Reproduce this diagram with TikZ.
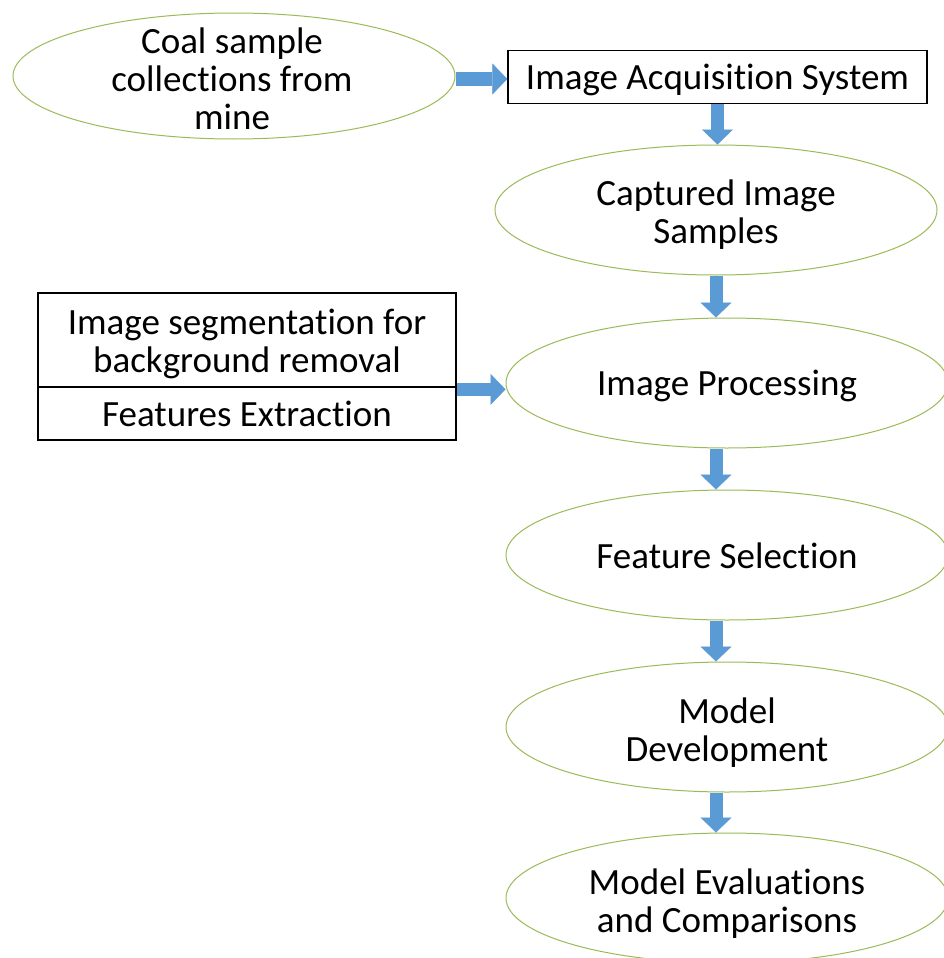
\documentclass[tikz,border=0pt]{standalone}
\usepackage{fontspec}
\setmainfont{Carlito}[Ligatures=NoCommon]
\usetikzlibrary{shapes.geometric,arrows.meta}
\definecolor{ellgreen}{HTML}{9BBB59}
\definecolor{arrblue}{HTML}{5B9BD5}
\begin{document}
\begin{tikzpicture}[x=1pt,y=-1pt,
  ell/.style={ellipse, draw=ellgreen, line width=1pt, inner sep=0pt,
              minimum width=442pt, minimum height=130pt},
  lbl/.style={align=center, font=\fontsize{37}{38}\selectfont, inner sep=0pt},
  rbox/.style={draw=black, line width=1.3pt, inner sep=0pt, minimum width=418pt},
  barrow/.style={draw=arrblue, line width=13pt,
                 -{Triangle[width=31pt,length=15pt,line width=0.5pt]}}
]
\useasboundingbox (0,0) rectangle (943,958);
\fill[white] (0,0) rectangle (943,958);

% shapes
\node[ell, minimum height=126pt] (e1) at (234,76) {};
\node[rbox, minimum width=419pt, minimum height=53pt] (acq) at (717.5,77) {};
\node[ell] (cap) at (716,210) {};
\node[ell] (ip) at (727,383) {};
\node[ell] (fs) at (727,555) {};
\node[ell] (md) at (727,727) {};
\node[ell] (me) at (727,898) {};
\node[rbox, minimum height=94pt] (seg) at (247,340) {};
\node[rbox, minimum height=53pt] (fe) at (247,413.5) {};

% texts
\node[lbl] (e1t) at (232,79) {Coal sample\\collections from\\mine};
\node[lbl, yshift=-3pt] (acqt) at (acq) {Image Acquisition System};
\node[lbl, yshift=-5pt] (capt) at (cap) {Captured Image\\Samples};
\node[lbl, yshift=-3pt] (ipt) at (ip) {Image Processing};
\node[lbl, yshift=-1pt] (fst) at (fs) {Feature Selection};
\node[lbl, yshift=-6pt] (mdt) at (md) {Model\\Development};
\node[lbl, yshift=-6pt] (met) at (me) {Model Evaluations\\and Comparisons};
\node[lbl, yshift=-4pt] (segt) at (seg) {Image segmentation for\\background removal};
\node[lbl] (fet) at (fe) {Features Extraction};

% connectors
\draw[barrow] ([yshift=-2pt]e1.east |- acq.west) -- ([yshift=-2pt]acq.west);
\draw[barrow] (acq.south) -- (acq.south |- cap.north);
\draw[barrow] (cap.south) -- (cap.south |- ip.north);
\draw[barrow] (cap.south |- ip.south) -- (cap.south |- fs.north);
\draw[barrow] (cap.south |- fs.south) -- (cap.south |- md.north);
\draw[barrow] (cap.south |- md.south) -- (cap.south |- me.north);
\draw[barrow] ([yshift=-3pt]fe.north east) -- ([yshift=-3pt]fe.north east -| ip.west);
\end{tikzpicture}
\end{document}
